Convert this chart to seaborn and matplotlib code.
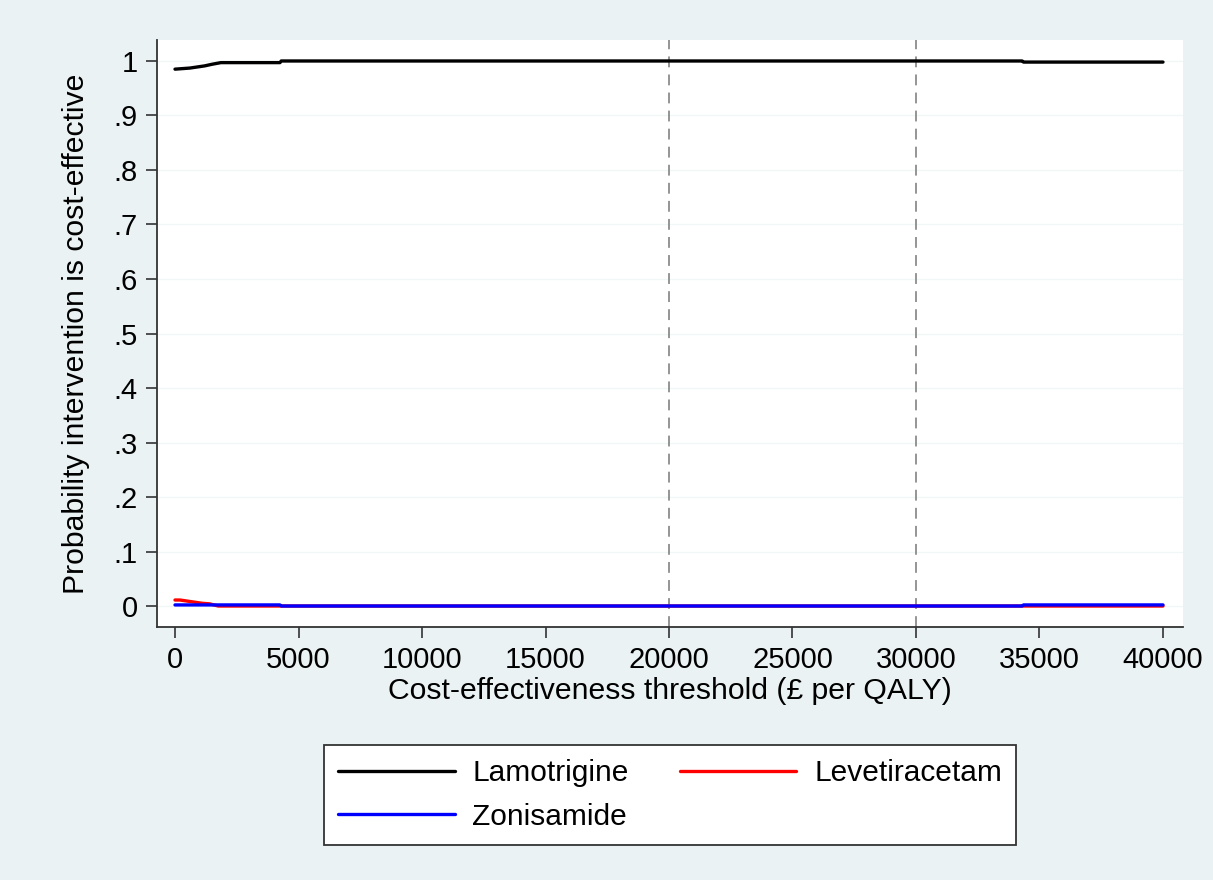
import matplotlib
matplotlib.use("Agg")
import matplotlib.pyplot as plt
import seaborn as sns
import pandas as pd

# Cost-effectiveness acceptability curves
lam_x = [0, 300, 600, 900, 1200, 1500, 1860, 4250, 4300, 34300, 34350, 40000]
lam_y = [0.985, 0.986, 0.987, 0.989, 0.991, 0.994, 0.997, 0.997, 1.0, 1.0, 0.998, 0.998]

lev_x = [0, 200, 500, 800, 1100, 1400, 1750, 40000]
lev_y = [0.011, 0.011, 0.009, 0.007, 0.005, 0.004, 0.0, 0.0]

zon_x = [0, 1750, 1800, 4250, 4300, 34300, 34350, 40000]
zon_y = [0.002, 0.002, 0.002, 0.002, 0.0, 0.0, 0.002, 0.002]

series = ["Lamotrigine", "Levetiracetam", "Zonisamide"]
colors = ["#000000", "#ff0000", "#0000ff"]

x_ticks = [0, 5000, 10000, 15000, 20000, 25000, 30000, 35000, 40000]
y_ticks = [0, 0.1, 0.2, 0.3, 0.4, 0.5, 0.6, 0.7, 0.8, 0.9, 1.0]
y_labels = ["0", ".1", ".2", ".3", ".4", ".5", ".6", ".7", ".8", ".9", "1"]
ref_lines = [20000, 30000]

df = pd.concat([
    pd.DataFrame({"threshold": lam_x, "prob": lam_y, "drug": series[0]}),
    pd.DataFrame({"threshold": lev_x, "prob": lev_y, "drug": series[1]}),
    pd.DataFrame({"threshold": zon_x, "prob": zon_y, "drug": series[2]}),
])

sns.set_theme(style="white")
plt.rcParams["font.family"] = ["Liberation Sans", "DejaVu Sans"]
plt.rcParams.update({"text.color": "black", "axes.labelcolor": "black",
                     "xtick.color": "black", "ytick.color": "black"})

bg = "#eaf2f3"
fig = plt.figure(figsize=(12.13, 8.8), dpi=100, facecolor=bg)
ax = fig.add_axes([157 / 1213, 1 - 627 / 880, (1183 - 157) / 1213, (627 - 40) / 880])
ax.set_facecolor("white")

for yv in y_ticks:
    ax.axhline(yv, color="#f1f6f7", lw=1.0, zorder=0)
for xv in ref_lines:
    ax.axvline(xv, color="#8c8c8c", lw=1.3, ls=(0, (6, 4)), zorder=1)

sns.lineplot(data=df, x="threshold", y="prob", hue="drug", hue_order=series,
             palette=colors, lw=2.4, ax=ax, legend=False, zorder=3, sort=False)

ax.set_xlim(-729, 40810)
ax.set_ylim(-0.0385, 1.0385)
ax.set_xticks(x_ticks)
ax.set_xticklabels([str(v) for v in x_ticks])
ax.set_yticks(y_ticks)
ax.set_yticklabels(y_labels)
ax.tick_params(axis="both", which="major", direction="out", length=8, width=1.2,
               color="#333333", labelsize=21, pad=6, bottom=True, left=True)

for side in ["top", "right"]:
    ax.spines[side].set_visible(False)
for side in ["left", "bottom"]:
    ax.spines[side].set_color("#333333")
    ax.spines[side].set_linewidth(1.3)

ax.set_xlabel("Cost-effectiveness threshold (£ per QALY)", fontsize=21.7, labelpad=2)
ax.set_ylabel("Probability intervention is cost-effective", fontsize=21.7, labelpad=17)

# legend fills column-wise: Lamotrigine / Zonisamide, then Levetiracetam
order = [0, 2, 1]
handles = [plt.Line2D([], [], color=colors[i], lw=2.4) for i in order]
labels = [series[i] for i in order]
leg = fig.legend(handles, labels, loc="center", bbox_to_anchor=(670 / 1213, 1 - 795 / 880),
                 ncol=2, fontsize=21.5, frameon=True, fancybox=False, edgecolor="#333333",
                 facecolor="white", framealpha=1, handlelength=3.9, handletextpad=0.6,
                 columnspacing=1.7, labelspacing=0.52, borderpad=0.47)
leg.get_frame().set_linewidth(1.3)

fig.savefig("out.png", dpi=100, facecolor=bg)
